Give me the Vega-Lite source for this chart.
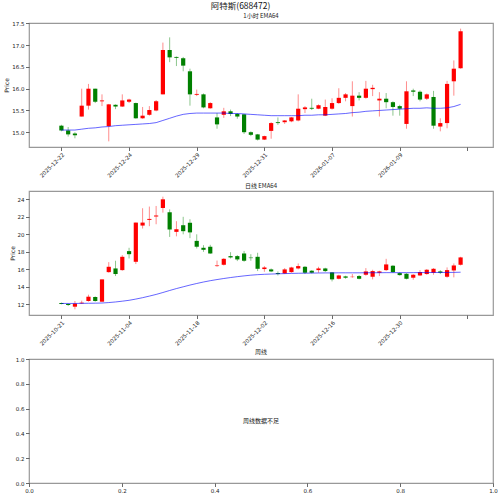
{
  "$schema": "https://vega.github.io/schema/vega-lite/v6.json",
  "title": {"text": "阿特斯(688472)", "anchor": "middle", "dx": -10, "fontSize": 8.5, "font": "Noto Sans CJK SC", "fontWeight": "normal", "offset": 2, "color": "#111"},
  "padding": {"left": 3, "top": 2, "right": 0, "bottom": 0},
  "bounds": "flush",
  "spacing": 44,
  "datasets": {
    "hourly": [
      {"i":0,"o":15.15,"h":15.17,"l":15.02,"c":15.04,"e":15.05},
      {"i":1,"o":15.04,"h":15.12,"l":14.90,"c":14.95,"e":15.05},
      {"i":2,"o":14.97,"h":15.00,"l":14.86,"c":14.93,"e":15.05},
      {"i":3,"o":15.36,"h":16.00,"l":15.36,"c":15.61,"e":15.07},
      {"i":4,"o":15.61,"h":16.11,"l":15.52,"c":16.00,"e":15.09},
      {"i":5,"o":16.00,"h":16.00,"l":15.67,"c":15.70,"e":15.10},
      {"i":6,"o":15.71,"h":15.87,"l":15.60,"c":15.73,"e":15.12},
      {"i":7,"o":15.14,"h":15.65,"l":14.79,"c":15.64,"e":15.13},
      {"i":8,"o":15.63,"h":15.64,"l":15.53,"c":15.59,"e":15.15},
      {"i":9,"o":15.59,"h":15.87,"l":15.58,"c":15.73,"e":15.16},
      {"i":10,"o":15.70,"h":15.77,"l":15.67,"c":15.75,"e":15.17},
      {"i":11,"o":15.67,"h":15.68,"l":15.31,"c":15.32,"e":15.18},
      {"i":12,"o":15.32,"h":15.58,"l":15.31,"c":15.38,"e":15.19},
      {"i":13,"o":15.40,"h":15.60,"l":15.38,"c":15.51,"e":15.20},
      {"i":14,"o":15.50,"h":15.74,"l":15.48,"c":15.71,"e":15.22},
      {"i":15,"o":15.87,"h":17.06,"l":15.87,"c":16.89,"e":15.27},
      {"i":16,"o":16.89,"h":17.18,"l":16.61,"c":16.72,"e":15.32},
      {"i":17,"o":16.73,"h":16.74,"l":16.52,"c":16.71,"e":15.37},
      {"i":18,"o":16.70,"h":16.73,"l":16.40,"c":16.53,"e":15.41},
      {"i":19,"o":16.40,"h":16.46,"l":15.61,"c":15.87,"e":15.43},
      {"i":20,"o":15.86,"h":15.98,"l":15.83,"c":15.88,"e":15.44},
      {"i":21,"o":15.87,"h":15.89,"l":15.55,"c":15.57,"e":15.44},
      {"i":22,"o":15.55,"h":15.69,"l":15.54,"c":15.67,"e":15.44},
      {"i":23,"o":15.34,"h":15.44,"l":15.08,"c":15.18,"e":15.44},
      {"i":24,"o":15.40,"h":15.56,"l":15.33,"c":15.48,"e":15.44},
      {"i":25,"o":15.48,"h":15.52,"l":15.37,"c":15.42,"e":15.43},
      {"i":26,"o":15.42,"h":15.44,"l":15.31,"c":15.36,"e":15.43},
      {"i":27,"o":15.41,"h":15.42,"l":14.96,"c":15.00,"e":15.42},
      {"i":28,"o":15.00,"h":15.02,"l":14.91,"c":14.94,"e":15.41},
      {"i":29,"o":14.95,"h":14.96,"l":14.81,"c":14.83,"e":15.40},
      {"i":30,"o":14.83,"h":14.92,"l":14.82,"c":14.91,"e":15.39},
      {"i":31,"o":15.03,"h":15.23,"l":14.85,"c":15.21,"e":15.38},
      {"i":32,"o":15.23,"h":15.34,"l":15.17,"c":15.21,"e":15.38},
      {"i":33,"o":15.23,"h":15.28,"l":15.19,"c":15.27,"e":15.38},
      {"i":34,"o":15.25,"h":15.35,"l":15.23,"c":15.34,"e":15.38},
      {"i":35,"o":15.27,"h":15.87,"l":15.25,"c":15.54,"e":15.38},
      {"i":36,"o":15.53,"h":15.60,"l":15.44,"c":15.57,"e":15.39},
      {"i":37,"o":15.56,"h":15.77,"l":15.51,"c":15.54,"e":15.39},
      {"i":38,"o":15.54,"h":15.64,"l":15.53,"c":15.62,"e":15.40},
      {"i":39,"o":15.38,"h":15.75,"l":15.37,"c":15.58,"e":15.40},
      {"i":40,"o":15.54,"h":15.78,"l":15.52,"c":15.67,"e":15.41},
      {"i":41,"o":15.67,"h":16.01,"l":15.65,"c":15.79,"e":15.42},
      {"i":42,"o":15.79,"h":15.90,"l":15.71,"c":15.87,"e":15.43},
      {"i":43,"o":15.60,"h":16.17,"l":15.36,"c":15.84,"e":15.45},
      {"i":44,"o":15.84,"h":15.92,"l":15.73,"c":15.79,"e":15.46},
      {"i":45,"o":15.79,"h":16.18,"l":15.77,"c":16.00,"e":15.48},
      {"i":46,"o":15.99,"h":16.09,"l":15.83,"c":16.02,"e":15.49},
      {"i":47,"o":15.73,"h":15.92,"l":15.36,"c":15.77,"e":15.50},
      {"i":48,"o":15.77,"h":15.90,"l":15.55,"c":15.69,"e":15.51},
      {"i":49,"o":15.69,"h":15.71,"l":15.38,"c":15.58,"e":15.52},
      {"i":50,"o":15.60,"h":15.63,"l":15.38,"c":15.54,"e":15.53},
      {"i":51,"o":15.19,"h":16.17,"l":15.08,"c":15.94,"e":15.54},
      {"i":52,"o":15.96,"h":16.00,"l":15.83,"c":15.93,"e":15.55},
      {"i":53,"o":15.93,"h":15.96,"l":15.71,"c":15.75,"e":15.55},
      {"i":54,"o":15.77,"h":15.89,"l":15.74,"c":15.87,"e":15.56},
      {"i":55,"o":15.81,"h":15.95,"l":15.08,"c":15.15,"e":15.55},
      {"i":56,"o":15.13,"h":15.32,"l":15.02,"c":15.21,"e":15.55},
      {"i":57,"o":15.21,"h":16.18,"l":15.09,"c":16.11,"e":15.56},
      {"i":58,"o":16.17,"h":16.65,"l":15.84,"c":16.46,"e":15.59},
      {"i":59,"o":16.47,"h":17.38,"l":16.46,"c":17.32,"e":15.64}
    ],
    "daily": [
      {"i":0,"o":12.15,"h":12.20,"l":12.00,"c":12.04,"e":12.10},
      {"i":1,"o":12.04,"h":12.10,"l":11.80,"c":11.92,"e":12.10},
      {"i":2,"o":11.73,"h":12.38,"l":11.43,"c":12.08,"e":12.10},
      {"i":3,"o":12.11,"h":12.42,"l":12.04,"c":12.19,"e":12.11},
      {"i":4,"o":12.38,"h":13.10,"l":12.30,"c":12.87,"e":12.12},
      {"i":5,"o":12.84,"h":12.91,"l":12.30,"c":12.38,"e":12.13},
      {"i":6,"o":12.30,"h":14.85,"l":12.30,"c":14.85,"e":12.15},
      {"i":7,"o":15.68,"h":16.82,"l":15.61,"c":16.29,"e":12.20},
      {"i":8,"o":16.10,"h":16.98,"l":15.23,"c":15.46,"e":12.27},
      {"i":9,"o":15.91,"h":17.62,"l":15.84,"c":17.43,"e":12.36},
      {"i":10,"o":18.08,"h":18.46,"l":17.24,"c":17.73,"e":12.46},
      {"i":11,"o":16.86,"h":21.34,"l":16.60,"c":21.34,"e":12.60},
      {"i":12,"o":21.00,"h":22.98,"l":20.66,"c":21.34,"e":12.76},
      {"i":13,"o":21.65,"h":23.17,"l":20.93,"c":21.76,"e":12.94},
      {"i":14,"o":22.03,"h":23.24,"l":21.15,"c":22.14,"e":13.13},
      {"i":15,"o":23.01,"h":24.30,"l":22.48,"c":24.00,"e":13.35},
      {"i":16,"o":22.52,"h":22.85,"l":19.70,"c":20.55,"e":13.58},
      {"i":17,"o":20.28,"h":21.50,"l":19.77,"c":20.58,"e":13.80},
      {"i":18,"o":21.04,"h":22.00,"l":20.00,"c":20.36,"e":14.00},
      {"i":19,"o":21.32,"h":21.72,"l":19.56,"c":20.22,"e":14.20},
      {"i":20,"o":19.25,"h":20.00,"l":18.38,"c":18.58,"e":14.38},
      {"i":21,"o":18.46,"h":18.76,"l":18.00,"c":18.23,"e":14.55},
      {"i":22,"o":18.58,"h":18.80,"l":17.77,"c":17.81,"e":14.70},
      {"i":23,"o":16.37,"h":17.00,"l":16.29,"c":16.44,"e":14.83},
      {"i":24,"o":16.52,"h":17.28,"l":16.44,"c":17.20,"e":14.95},
      {"i":25,"o":17.51,"h":17.96,"l":17.24,"c":17.36,"e":15.06},
      {"i":26,"o":17.51,"h":17.62,"l":16.94,"c":17.13,"e":15.16},
      {"i":27,"o":17.81,"h":18.10,"l":16.86,"c":16.98,"e":15.25},
      {"i":28,"o":17.34,"h":17.73,"l":16.98,"c":17.28,"e":15.33},
      {"i":29,"o":17.43,"h":17.89,"l":15.80,"c":16.06,"e":15.39},
      {"i":30,"o":16.03,"h":16.37,"l":15.72,"c":16.21,"e":15.43},
      {"i":31,"o":15.99,"h":16.10,"l":15.68,"c":15.76,"e":15.46},
      {"i":32,"o":15.57,"h":15.76,"l":15.30,"c":15.46,"e":15.49},
      {"i":33,"o":15.53,"h":16.14,"l":15.46,"c":15.99,"e":15.51},
      {"i":34,"o":15.68,"h":16.29,"l":15.61,"c":16.21,"e":15.53},
      {"i":35,"o":16.10,"h":16.67,"l":15.99,"c":16.37,"e":15.55},
      {"i":36,"o":16.29,"h":16.37,"l":15.46,"c":15.61,"e":15.56},
      {"i":37,"o":15.84,"h":15.91,"l":15.53,"c":15.61,"e":15.57},
      {"i":38,"o":15.91,"h":16.29,"l":15.61,"c":16.10,"e":15.58},
      {"i":39,"o":16.10,"h":16.18,"l":15.68,"c":15.80,"e":15.59},
      {"i":40,"o":15.65,"h":15.68,"l":14.62,"c":14.85,"e":15.59},
      {"i":41,"o":14.92,"h":15.38,"l":14.85,"c":15.30,"e":15.60},
      {"i":42,"o":15.19,"h":15.27,"l":14.92,"c":15.04,"e":15.60},
      {"i":43,"o":15.11,"h":15.46,"l":15.04,"c":15.15,"e":15.60},
      {"i":44,"o":15.23,"h":15.34,"l":14.85,"c":14.92,"e":15.60},
      {"i":45,"o":15.38,"h":16.14,"l":15.27,"c":15.76,"e":15.61},
      {"i":46,"o":15.15,"h":15.95,"l":14.85,"c":15.80,"e":15.61},
      {"i":47,"o":15.61,"h":15.84,"l":15.23,"c":15.76,"e":15.61},
      {"i":48,"o":15.91,"h":17.20,"l":15.80,"c":16.56,"e":15.62},
      {"i":49,"o":16.41,"h":16.48,"l":15.61,"c":15.68,"e":15.62},
      {"i":50,"o":15.57,"h":15.68,"l":15.27,"c":15.34,"e":15.62},
      {"i":51,"o":15.49,"h":15.57,"l":14.85,"c":14.92,"e":15.62},
      {"i":52,"o":15.04,"h":15.46,"l":14.81,"c":15.38,"e":15.62},
      {"i":53,"o":15.30,"h":15.91,"l":15.23,"c":15.68,"e":15.63},
      {"i":54,"o":15.46,"h":16.03,"l":15.38,"c":15.95,"e":15.63},
      {"i":55,"o":15.61,"h":16.14,"l":15.38,"c":16.06,"e":15.64},
      {"i":56,"o":15.76,"h":15.91,"l":15.46,"c":15.61,"e":15.64},
      {"i":57,"o":15.15,"h":16.22,"l":15.04,"c":15.91,"e":15.64},
      {"i":58,"o":15.87,"h":16.67,"l":15.08,"c":16.44,"e":15.65},
      {"i":59,"o":16.52,"h":17.43,"l":16.44,"c":17.36,"e":15.67}
    ]
  },
  "vconcat": [
    {
      "width": 464, "height": 124,
      "title": {"text": "1小时 EMA64"},
      "data": {"name": "hourly"},
      "encoding": {
        "x": {"field": "i", "type": "quantitative", "title": null,
          "scale": {"domain": [-4.05, 63.05], "nice": false, "zero": false},
          "axis": {"values": [0,10,20,30,40,50,60], "labelAngle": -45,
            "labelExpr": "datum.value==0?'2025-12-22':datum.value==10?'2025-12-24':datum.value==20?'2025-12-29':datum.value==30?'2025-12-31':datum.value==40?'2026-01-07':datum.value==50?'2026-01-09':''"}}
      },
      "layer": [
        {"mark": {"type": "rule", "strokeWidth": 1, "opacity": 0.45},
         "encoding": {
           "y": {"field": "l", "type": "quantitative", "title": "Price",
             "scale": {"domain": [14.66, 17.51], "nice": false, "zero": false},
             "axis": {"values": [15,15.5,16,16.5,17,17.5], "format": ".1f"}},
           "y2": {"field": "h"},
           "color": {"condition": {"test": "datum.c >= datum.o", "value": "#ff0000"}, "value": "#008000"}}},
        {"mark": {"type": "bar", "size": 4.2},
         "encoding": {
           "y": {"field": "o", "type": "quantitative", "title": "Price", "scale": {"domain": [14.66, 17.51], "nice": false, "zero": false},
             "axis": {"values": [15,15.5,16,16.5,17,17.5], "format": ".1f"}},
           "y2": {"field": "c"},
           "color": {"condition": {"test": "datum.c >= datum.o", "value": "#ff0000"}, "value": "#008000"}}},
        {"mark": {"type": "line", "color": "blue", "opacity": 0.6, "strokeWidth": 1},
         "encoding": {
           "y": {"field": "e", "type": "quantitative", "title": "Price", "scale": {"domain": [14.66, 17.51], "nice": false, "zero": false},
             "axis": {"values": [15,15.5,16,16.5,17,17.5], "format": ".1f"}}}}
      ]
    },
    {
      "width": 464, "height": 124,
      "title": {"text": "日线 EMA64"},
      "data": {"name": "daily"},
      "encoding": {
        "x": {"field": "i", "type": "quantitative", "title": null,
          "scale": {"domain": [-4.05, 63.05], "nice": false, "zero": false},
          "axis": {"values": [0,10,20,30,40,50,60], "labelAngle": -45,
            "labelExpr": "datum.value==0?'2025-10-21':datum.value==10?'2025-11-04':datum.value==20?'2025-11-18':datum.value==30?'2025-12-02':datum.value==40?'2025-12-16':datum.value==50?'2025-12-30':''"}}
      },
      "layer": [
        {"mark": {"type": "rule", "strokeWidth": 1, "opacity": 0.45},
         "encoding": {
           "y": {"field": "l", "type": "quantitative", "title": "Price",
             "scale": {"domain": [10.78, 24.95], "nice": false, "zero": false},
             "axis": {"values": [12,14,16,18,20,22,24]}},
           "y2": {"field": "h"},
           "color": {"condition": {"test": "datum.c >= datum.o", "value": "#ff0000"}, "value": "#008000"}}},
        {"mark": {"type": "bar", "size": 4.2},
         "encoding": {
           "y": {"field": "o", "type": "quantitative", "title": "Price", "scale": {"domain": [10.78, 24.95], "nice": false, "zero": false},
             "axis": {"values": [12,14,16,18,20,22,24]}},
           "y2": {"field": "c"},
           "color": {"condition": {"test": "datum.c >= datum.o", "value": "#ff0000"}, "value": "#008000"}}},
        {"mark": {"type": "line", "color": "blue", "opacity": 0.6, "strokeWidth": 1},
         "encoding": {
           "y": {"field": "e", "type": "quantitative", "title": "Price", "scale": {"domain": [10.78, 24.95], "nice": false, "zero": false},
             "axis": {"values": [12,14,16,18,20,22,24]}}}}
      ]
    },
    {
      "width": 464, "height": 124,
      "title": {"text": "周线"},
      "data": {"values": [{"x": 0.5, "y": 0.5, "msg": "周线数据不足"}]},
      "mark": {"type": "text", "fontSize": 6, "font": "Noto Sans CJK SC", "color": "#111"},
      "encoding": {
        "x": {"field": "x", "type": "quantitative", "title": null,
          "scale": {"domain": [0, 1], "nice": false},
          "axis": {"values": [0,0.2,0.4,0.6,0.8,1], "format": ".1f", "labelAngle": 0, "labelFlush": false}},
        "y": {"field": "y", "type": "quantitative", "title": null,
          "scale": {"domain": [0, 1], "nice": false},
          "axis": {"values": [0,0.2,0.4,0.6,0.8,1], "format": ".1f", "labelFlush": false}},
        "text": {"field": "msg"}
      }
    }
  ],
  "config": {
    "view": {"stroke": "#999999", "strokeWidth": 1.2},
    "axis": {"labelFontSize": 5.5, "labelFont": "DejaVu Sans", "labelColor": "#222", "tickColor": "#444", "tickSize": 3.5, "tickWidth": 0.8, "domain": false, "grid": false, "labelPadding": 1.5, "titleFont": "DejaVu Sans", "titleFontSize": 6, "titleFontWeight": "normal", "titleColor": "#222", "titlePadding": 2, "labelOverlap": false, "labelFlush": false},
    "title": {"fontSize": 6, "fontWeight": "normal", "font": "Noto Sans CJK SC", "offset": 2, "color": "#222"}
  }
}
